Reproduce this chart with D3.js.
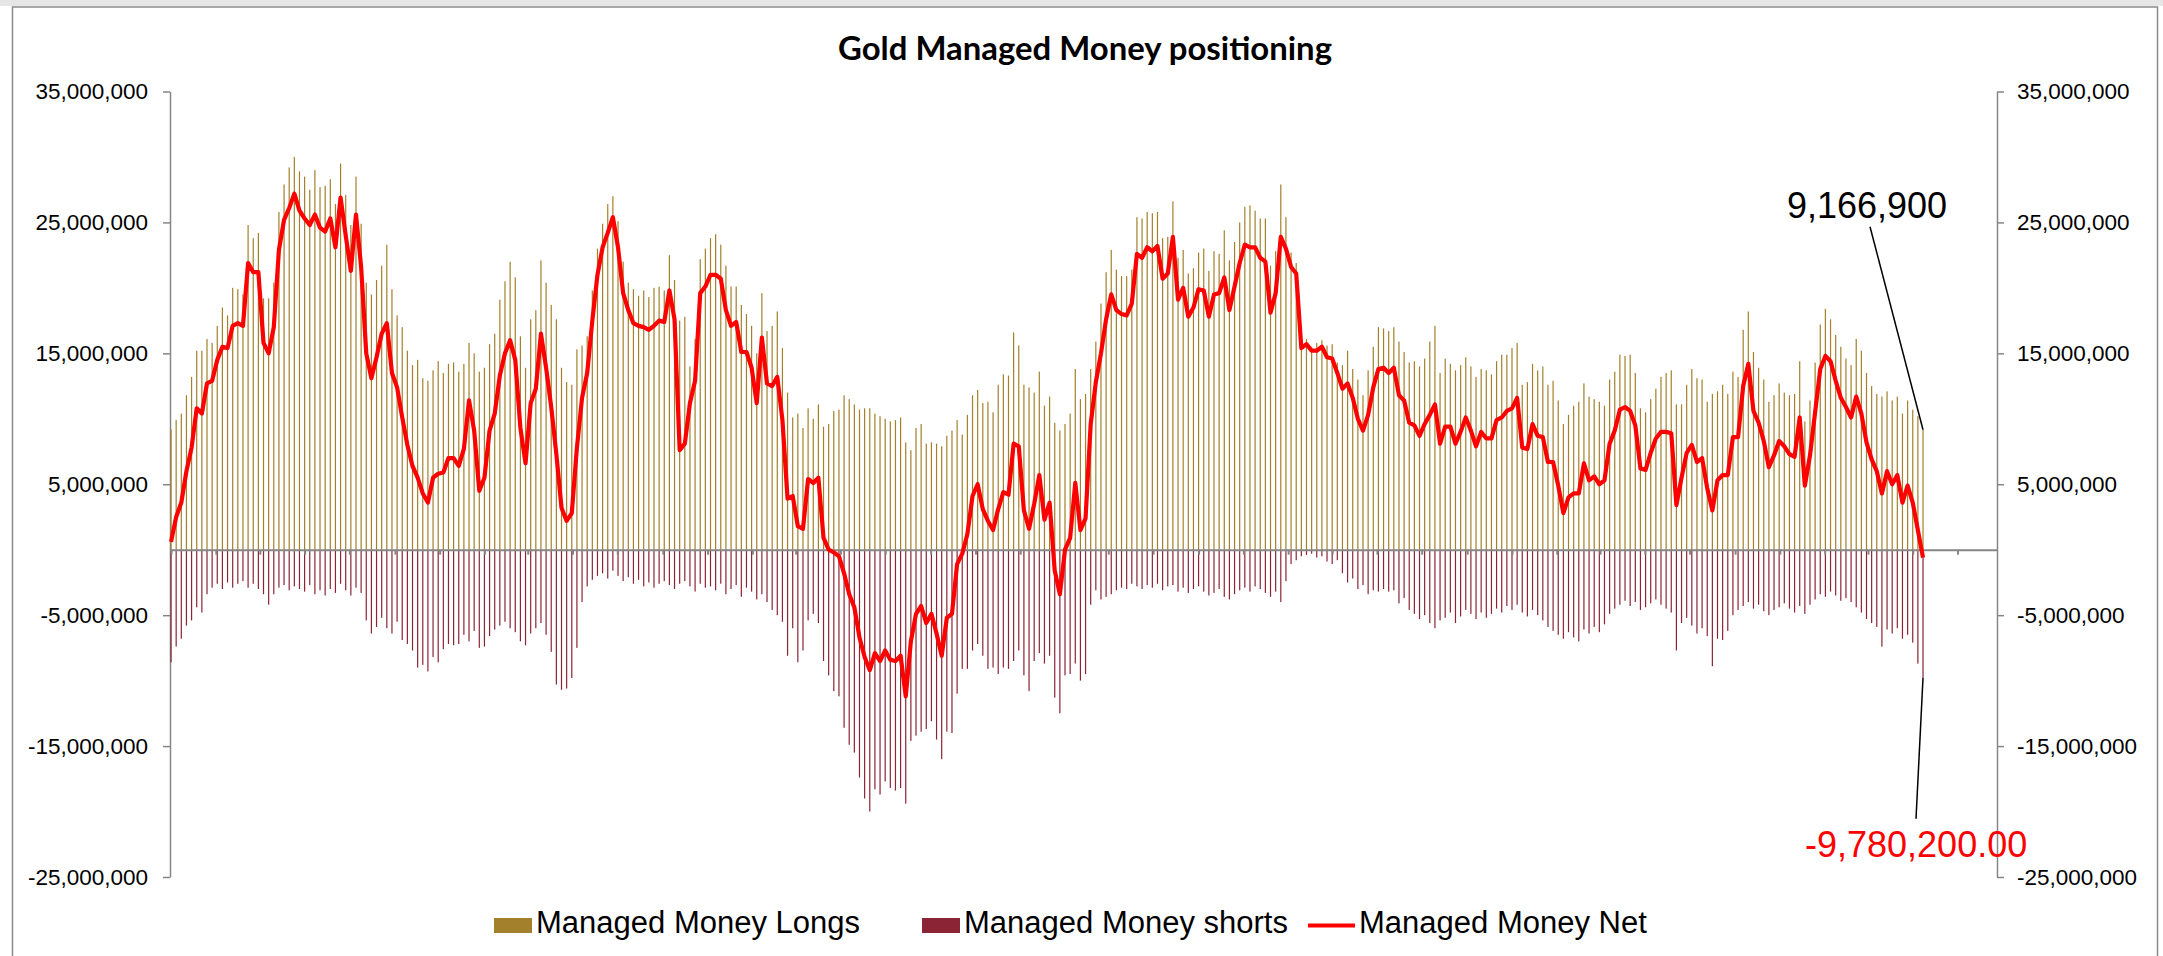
<!DOCTYPE html>
<html>
<head>
<meta charset="utf-8">
<script src="https://cdn.jsdelivr.net/npm/d3@7"></script>
<style>
  body { margin: 0; background: #fff; }
  svg { display: block; }
</style>
</head>
<body>
<script>
const width = 2163, height = 956;

// weekly positions, millions of ounces
const longs = [
  9.2, 9.9, 10.4, 11.8, 13.2, 15.2, 15.2, 16.1, 15.8, 17.1,
  18.5, 17.9, 20.0, 19.9, 19.5, 24.8, 23.8, 24.2, 19.2, 19.2,
  20.4, 25.8, 27.9, 29.2, 30.0, 28.9, 28.5, 27.5, 29.0, 27.7,
  27.8, 28.3, 26.4, 29.5, 27.1, 24.8, 28.5, 24.9, 20.4, 19.5,
  20.6, 21.7, 23.3, 19.9, 17.9, 17.0, 15.2, 14.1, 14.5, 13.1,
  12.9, 13.7, 14.4, 13.5, 14.2, 14.3, 13.6, 14.2, 15.8, 15.0,
  13.6, 13.9, 15.7, 16.5, 19.1, 20.5, 22.0, 20.8, 16.3, 13.9,
  17.6, 18.3, 22.1, 20.4, 18.7, 17.6, 13.9, 12.8, 12.6, 15.3,
  15.6, 16.3, 19.8, 23.0, 24.9, 26.4, 27.0, 25.1, 22.0, 20.4,
  19.9, 19.4, 19.8, 19.3, 20.0, 20.1, 19.8, 22.5, 20.6, 17.5,
  17.8, 14.0, 16.1, 22.2, 23.0, 23.8, 24.1, 23.3, 21.7, 20.1, 20.1,
  18.7, 18.0, 17.1, 15.0, 19.6, 16.7, 17.1, 18.2, 15.4, 12.0,
  10.1, 10.4, 9.3, 10.8, 10.0, 11.1, 9.4, 9.6, 10.6, 10.7,
  11.8, 11.5, 11.1, 10.7, 10.8, 10.8, 10.4, 10.2, 10.0, 9.8,
  9.9, 10.1, 8.2, 7.6, 9.3, 9.6, 8.1, 8.2, 8.1, 7.9,
  8.7, 9.1, 9.9, 8.8, 10.3, 11.8, 12.2, 11.2, 11.3, 10.5,
  12.6, 13.4, 13.3, 16.6, 15.6, 12.6, 12.4, 12.0, 13.6, 11.0,
  11.7, 9.7, 9.1, 9.6, 10.4, 13.8, 11.5, 11.9, 13.8, 15.9,
  18.8, 21.2, 22.9, 21.4, 20.9, 20.9, 21.4, 25.4, 25.3, 25.8,
  25.7, 25.8, 23.8, 23.9, 26.6, 22.3, 22.9, 21.1, 21.5, 22.7,
  23.0, 21.3, 22.8, 22.6, 24.4, 22.1, 23.5, 25.0, 26.2, 26.3,
  25.9, 25.3, 25.3, 21.7, 22.8, 27.9, 25.4, 22.7, 21.9, 15.9,
  16.1, 15.5, 15.8, 16.0, 15.6, 15.7, 14.3, 14.1, 15.2, 13.8,
  13.0, 11.8, 13.7, 15.5, 17.0, 16.9, 16.7, 17.0, 15.9, 15.1,
  14.3, 14.4, 14.0, 14.6, 15.9, 17.1, 13.5, 14.6, 14.2, 13.7,
  14.1, 14.7, 14.0, 13.2, 13.8, 13.7, 13.4, 14.4, 14.9, 14.9,
  15.4, 15.8, 12.6, 12.8, 14.2, 13.7, 14.0, 12.6, 12.9, 11.4,
  9.6, 10.3, 11.0, 11.3, 12.7, 11.7, 11.5, 11.3, 11.0, 13.0,
  13.6, 14.9, 14.8, 14.9, 13.5, 10.8, 10.5, 11.5, 12.3, 13.2,
  13.5, 13.7, 11.1, 11.1, 12.6, 13.8, 13.1, 13.0, 11.3, 11.9,
  12.1, 12.6, 11.9, 13.6, 13.2, 16.8, 18.2, 15.1, 13.9, 13.0,
  11.3, 11.8, 12.7, 12.0, 11.8, 11.9, 14.4, 9.8, 11.4, 14.3,
  17.2, 18.4, 17.6, 16.4, 15.5, 14.6, 14.1, 16.1, 15.2, 13.5,
  12.5, 11.9, 11.7, 12.1, 11.4, 11.7, 10.4, 11.4, 10.7, 10.2,
  9.1669
];

const shorts = [
  -8.6, -7.4, -6.8, -5.8, -5.4, -4.4, -4.8, -3.4, -2.9, -2.6,
  -3.0, -2.5, -2.9, -2.6, -2.4, -2.9, -2.6, -3.0, -3.4, -4.2,
  -3.4, -2.9, -2.7, -3.1, -2.8, -3.0, -3.2, -2.7, -3.4, -3.1,
  -3.5, -3.0, -3.3, -2.6, -3.1, -3.5, -2.9, -3.3, -5.4, -6.4,
  -5.9, -5.2, -6.0, -6.4, -5.5, -6.9, -7.2, -7.7, -9.0, -8.8,
  -9.3, -8.2, -8.6, -7.6, -7.2, -7.3, -7.2, -6.5, -7.0, -6.2,
  -7.5, -7.4, -6.6, -6.1, -5.8, -5.5, -6.0, -6.3, -7.0, -7.3,
  -6.4, -6.0, -5.6, -6.5, -7.8, -10.3, -10.7, -10.6, -9.8, -7.5,
  -4.0, -2.8, -2.3, -2.0, -1.8, -2.2, -1.6, -2.0, -2.4, -2.1,
  -2.6, -2.3, -2.8, -2.5, -2.9, -2.6, -2.4, -2.7, -3.0, -2.6,
  -2.4, -2.8, -3.2, -2.6, -2.9, -2.8, -3.1, -2.6, -3.4, -3.0, -2.7,
  -3.6, -2.9, -3.2, -3.8, -3.4, -4.0, -4.6, -5.0, -5.5, -8.1,
  -6.0, -8.6, -7.7, -5.4, -4.9, -5.6, -8.5, -9.6, -10.8, -11.2,
  -13.6, -14.9, -15.5, -17.4, -19.0, -20.0, -18.3, -18.7, -17.7, -18.2,
  -18.4, -18.2, -19.4, -14.6, -14.2, -13.9, -13.7, -13.1, -14.5, -16.0,
  -13.9, -14.0, -11.0, -9.1, -9.1, -7.7, -7.2, -8.1, -9.1, -9.0,
  -9.5, -9.0, -9.1, -8.5, -7.7, -9.6, -10.8, -8.5, -7.9, -8.7,
  -8.1, -11.3, -12.5, -9.6, -9.5, -8.7, -10.0, -9.5, -4.2, -3.1,
  -3.8, -3.6, -3.4, -3.1, -2.9, -3.0, -2.6, -2.8, -3.0, -2.7,
  -2.9, -2.6, -3.1, -2.8, -2.7, -3.2, -2.9, -3.3, -3.0, -2.8,
  -3.2, -3.5, -3.3, -3.0, -3.6, -3.8, -3.4, -3.1, -2.9, -3.2,
  -2.8, -3.0, -3.3, -3.6, -3.2, -4.0, -2.4, -1.1, -0.8, -0.5,
  -0.4, -0.3, -0.6, -0.5, -0.9, -1.1, -0.8, -1.8, -2.5, -2.2,
  -3.0, -2.7, -3.4, -3.1, -3.2, -3.0, -3.2, -3.1, -4.1, -3.7,
  -4.6, -4.9, -5.3, -5.0, -5.6, -6.0, -5.4, -5.2, -4.8, -5.6,
  -5.1, -4.6, -4.9, -5.3, -4.8, -5.2, -4.9, -4.5, -4.8, -4.3,
  -4.6, -4.2, -4.8, -5.1, -4.6, -5.0, -5.4, -5.9, -6.2, -6.5,
  -6.8, -6.3, -6.7, -7.0, -6.1, -6.4, -5.9, -6.3, -5.7, -4.9,
  -4.5, -4.2, -3.9, -4.3, -4.0, -4.6, -4.4, -4.1, -3.8, -4.2,
  -4.5, -4.8, -7.7, -5.6, -5.2, -5.8, -6.4, -6.0, -6.6, -8.9,
  -6.8, -6.9, -6.2, -5.0, -4.6, -4.3, -4.0, -4.5, -4.2, -4.7,
  -5.0, -4.6, -4.4, -4.1, -4.5, -4.8, -4.3, -4.9, -4.2, -3.8,
  -3.4, -3.6, -3.2, -3.5, -3.9, -3.7, -4.0, -4.4, -4.8, -5.3,
  -5.6, -5.9, -7.4, -6.1, -6.4, -6.0, -6.8, -6.5, -7.1, -8.7,
  -9.7802
];

const net = [
  0.6, 2.5, 3.6, 6.0, 7.8, 10.8, 10.4, 12.7, 12.9, 14.5,
  15.5, 15.4, 17.1, 17.3, 17.1, 21.9, 21.2, 21.2, 15.8, 15.0,
  17.0, 22.9, 25.2, 26.1, 27.2, 25.9, 25.3, 24.8, 25.6, 24.6,
  24.3, 25.3, 23.1, 26.9, 24.0, 21.3, 25.6, 21.6, 15.0, 13.1,
  14.7, 16.5, 17.3, 13.5, 12.4, 10.1, 8.0, 6.4, 5.5, 4.3,
  3.6, 5.5, 5.8, 5.9, 7.0, 7.0, 6.4, 7.7, 11.4, 9.1,
  4.5, 5.5, 9.1, 10.4, 13.3, 15.0, 16.0, 14.5, 9.3, 6.6,
  11.2, 12.3, 16.5, 13.9, 10.9, 7.3, 3.2, 2.2, 2.8, 7.8,
  11.6, 13.5, 17.5, 21.0, 23.1, 24.2, 25.4, 23.1, 19.6, 18.3,
  17.3, 17.1, 17.0, 16.8, 17.1, 17.5, 17.4, 19.8, 17.6, 7.6,
  8.1, 11.2, 12.9, 19.6, 20.1, 21.0, 21.0, 20.7, 18.3, 17.1, 17.4,
  15.1, 15.1, 13.9, 11.2, 16.2, 12.7, 12.5, 13.2, 9.9, 3.9,
  4.1, 1.8, 1.6, 5.4, 5.1, 5.5, 0.9, 0.0, -0.2, -0.5,
  -1.8, -3.4, -4.4, -6.7, -8.2, -9.2, -7.9, -8.5, -7.7, -8.4,
  -8.5, -8.1, -11.2, -7.0, -4.9, -4.3, -5.6, -4.9, -6.4, -8.1,
  -5.2, -4.9, -1.1, -0.3, 1.2, 4.1, 5.0, 3.1, 2.2, 1.5,
  3.1, 4.4, 4.2, 8.1, 7.9, 3.0, 1.6, 3.5, 5.7, 2.3,
  3.6, -1.6, -3.4, 0.0, 0.9, 5.1, 1.5, 2.4, 9.6, 12.8,
  15.0, 17.6, 19.5, 18.3, 18.0, 17.9, 18.8, 22.6, 22.3, 23.1,
  22.8, 23.2, 20.7, 21.1, 23.9, 19.1, 20.0, 17.8, 18.5, 19.9,
  19.8, 17.8, 19.5, 19.6, 20.8, 18.3, 20.1, 21.9, 23.3, 23.1,
  23.1, 22.3, 22.0, 18.1, 19.6, 23.9, 23.0, 21.6, 21.1, 15.4,
  15.7, 15.2, 15.2, 15.5, 14.7, 14.6, 13.5, 12.3, 12.7, 11.6,
  10.0, 9.1, 10.3, 12.4, 13.8, 13.9, 13.5, 13.9, 11.8, 11.4,
  9.7, 9.5, 8.7, 9.6, 10.3, 11.1, 8.1, 9.4, 9.4, 8.1,
  9.0, 10.1, 9.1, 7.9, 9.0, 8.5, 8.5, 9.9, 10.1, 10.6,
  10.8, 11.6, 7.8, 7.7, 9.6, 8.7, 8.6, 6.7, 6.7, 4.9,
  2.8, 4.0, 4.3, 4.3, 6.6, 5.3, 5.6, 5.0, 5.3, 8.1,
  9.1, 10.7, 10.9, 10.6, 9.5, 6.2, 6.1, 7.4, 8.5, 9.0,
  9.0, 8.9, 3.4, 5.5, 7.4, 8.0, 6.7, 7.0, 4.7, 3.0,
  5.3, 5.7, 5.7, 8.6, 8.6, 12.5, 14.2, 10.6, 9.7, 8.3,
  6.3, 7.2, 8.3, 7.9, 7.3, 7.1, 10.1, 4.9, 7.2, 10.5,
  13.8, 14.8, 14.4, 12.9, 11.6, 10.9, 10.1, 11.7, 10.4, 8.2,
  6.9, 6.0, 4.3, 6.0, 5.0, 5.7, 3.6, 4.9, 3.6, 1.5,
  -0.6133
];

const yTicks = [35e6, 25e6, 15e6, 5e6, -5e6, -15e6, -25e6];
const seriesNames = ["Managed Money Longs", "Managed Money shorts", "Managed Money Net"];
const seriesColors = ["#A3812C", "#8B2535", "#FF0000"];

// weekly report dates (the x axis carries no labels, only 2-month ticks)
const firstWeek = new Date(2011, 10, 1);
const weeks = longs.map((d, i) => d3.timeWeek.offset(firstWeek, i));
const wk = 7 * 864e5;

const loc = d3.formatLocale({decimal: ".", thousands: ",", grouping: [3], currency: ["$", ""], minus: "-"});
const fmt = loc.format(",");
const fmt2 = loc.format(",.2f");

const x = d3.scaleTime()
    .domain([new Date(+firstWeek - 0.2 * wk), new Date(+firstWeek + 355.4 * wk)])
    .range([170, 1997]);
const y = d3.scaleLinear().domain([-25e6, 35e6]).range([877, 91.5]);
const M = v => y(v * 1e6);

const svg = d3.select("body").append("svg")
    .attr("width", width)
    .attr("height", height)
    .attr("font-family", "'Liberation Sans', Arial, sans-serif");

// frame
svg.append("rect").attr("width", width).attr("height", 6).attr("fill", "#e6e6e6");
svg.append("rect")
    .attr("x", 12.5).attr("y", 7).attr("width", 2145).attr("height", 980)
    .attr("fill", "#fff").attr("stroke", "#8a8a8a").attr("stroke-width", 1.5);

svg.append("text")
    .attr("x", 1085).attr("y", 60)
    .attr("text-anchor", "middle")
    .attr("font-family", "Lato, 'Open Sans', sans-serif")
    .attr("font-weight", "bold")
    .attr("font-size", 33)
    .attr("textLength", 494)
    .attr("lengthAdjust", "spacingAndGlyphs")
    .text("Gold Managed Money positioning");

// y axes
const axisStyle = g => {
  g.selectAll(".domain, .tick line").attr("stroke", "#868686").attr("stroke-width", 1.5);
  g.selectAll("text").attr("font-size", 22.5).attr("fill", "#000");
  g.attr("font-family", null);
};
svg.append("g")
    .attr("transform", "translate(170,0)")
    .call(d3.axisLeft(y).tickValues(yTicks).tickFormat(fmt).tickSize(7).tickSizeOuter(0).tickPadding(15))
    .call(axisStyle);
svg.append("g")
    .attr("transform", "translate(1997,0)")
    .call(d3.axisRight(y).tickValues(yTicks).tickFormat(fmt).tickSize(7).tickSizeOuter(0).tickPadding(13))
    .call(axisStyle);

// bars
const bw = 1.2;
svg.append("g").attr("fill", seriesColors[0])
  .selectAll("rect").data(longs).join("rect")
    .attr("x", (d, i) => x(weeks[i]) - bw / 2)
    .attr("y", d => M(d))
    .attr("width", bw)
    .attr("height", d => M(0) - M(d));

svg.append("g").attr("fill", seriesColors[1])
  .selectAll("rect").data(shorts).join("rect")
    .attr("x", (d, i) => x(weeks[i]) - bw / 2)
    .attr("y", M(0))
    .attr("width", bw)
    .attr("height", d => M(d) - M(0));

// zero axis with 2-month ticks
svg.append("g")
    .attr("transform", `translate(0,${M(0)})`)
    .call(d3.axisBottom(x).ticks(d3.timeMonth.every(2)).tickFormat("").tickSize(5).tickSizeOuter(0))
    .call(g => g.selectAll(".domain, .tick line").attr("stroke", "#868686").attr("stroke-width", 2));

svg.append("path")
    .datum(net)
    .attr("fill", "none")
    .attr("stroke", seriesColors[2])
    .attr("stroke-width", 4.2)
    .attr("stroke-linejoin", "round")
    .attr("d", d3.line().x((d, i) => x(weeks[i])).y(d => M(d)));

// last-week callouts
const li = longs.length - 1;
const lx = x(weeks[li]);
svg.append("line")
    .attr("x1", lx - 53).attr("y1", M(longs[li]) - 203)
    .attr("x2", lx).attr("y2", M(longs[li]))
    .attr("stroke", "#000").attr("stroke-width", 1.5);
svg.append("text")
    .attr("x", lx - 56).attr("y", M(longs[li]) - 212)
    .attr("text-anchor", "middle")
    .attr("font-size", 36)
    .text(fmt(Math.round(longs[li] * 1e6)));

svg.append("line")
    .attr("x1", lx).attr("y1", M(shorts[li]))
    .attr("x2", lx - 7).attr("y2", M(shorts[li]) + 141)
    .attr("stroke", "#000").attr("stroke-width", 1.5);
svg.append("text")
    .attr("x", lx - 118).attr("y", M(shorts[li]) + 179)
    .attr("font-size", 36)
    .attr("fill", "#FF0000")
    .text(fmt2(Math.round(shorts[li] * 1e6)));

// legend
const legendX = [494, 922, 1308];
const leg = svg.append("g").attr("font-size", 31);
seriesNames.forEach((name, i) => {
  let x0 = legendX[i], x1;
  if (i < 2) {
    x1 = x0 + 38;
    leg.append("rect").attr("x", x0).attr("y", 918).attr("width", 38).attr("height", 15)
        .attr("fill", seriesColors[i]);
  } else {
    x1 = x0 + 47;
    leg.append("line").attr("x1", x0).attr("x2", x1).attr("y1", 925.5).attr("y2", 925.5)
        .attr("stroke", seriesColors[i]).attr("stroke-width", 4);
  }
  leg.append("text").attr("x", x1 + 4).attr("y", 933).text(name);
});
</script>
</body>
</html>
